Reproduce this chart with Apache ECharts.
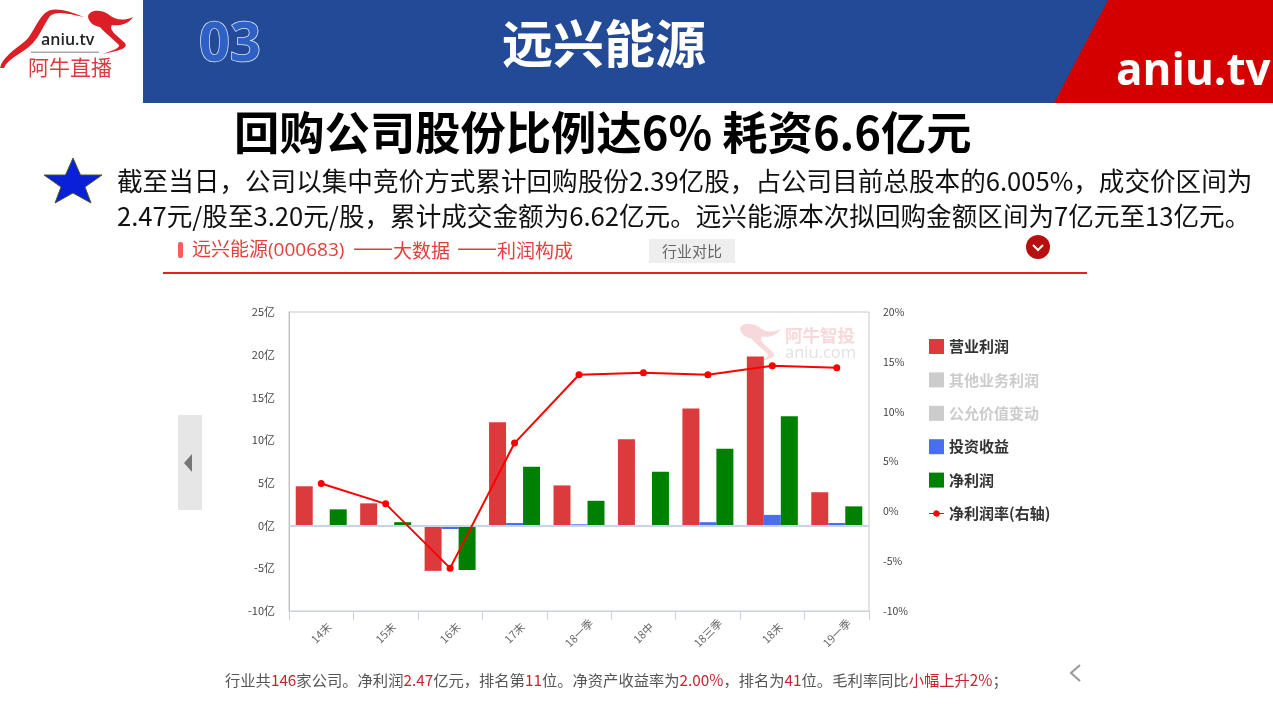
<!DOCTYPE html>
<html>
<head>
<meta charset="utf-8">
<title>远兴能源</title>
<script src="https://cdn.jsdelivr.net/npm/echarts@6/dist/echarts.min.js"></script>
<style>
  html, body { margin: 0; padding: 0; background: #fff; }
  #chart { width: 1273px; height: 705px; }
</style>
</head>
<body>
<div id="chart"></div>
<script>
// 数据
const categories = ['14末', '15末', '16末', '17末', '18一季', '18中', '18三季', '18末', '19一季']
const operatingProfit = [4.6, 2.6, -5.3, 12.1, 4.7, 10.1, 13.7, 19.8, 3.9]
const otherProfit = []
const fairValueChange = []
const investIncome = [0.02, -0.1, -0.4, 0.3, 0.15, 0.05, 0.4, 1.25, 0.3]
const netProfit = [1.9, 0.4, -5.2, 6.9, 2.9, 6.3, 9.0, 12.8, 2.25]
const netMargin = [2.8, 0.75, -5.7, 6.85, 13.7, 13.9, 13.7, 14.6, 14.4]
const legendNames = ['营业利润', '其他业务利润', '公允价值变动', '投资收益', '净利润', '净利润率(右轴)']

const FONT = '"Noto Sans CJK SC", "Noto Sans", sans-serif'
const myChart = echarts.init(document.getElementById('chart'))

// 袋鼠 logo 形状
const roBody = 'M0,68 C2,58 14,50 24,42 C32,36 36,22 44,14 C52,6 66,10 84,17 C70,14 56,10 50,16 C44,24 40,36 32,44 C22,54 8,58 4,68 Z '
const roHead = 'M88,16 C90,10 100,9 108,14 C114,19 122,22 133,17 C128,25 118,26 112,25 C108,30 118,36 125,43 C128,48 122,50 103,54 C114,50 120,48 119,45 C112,38 104,32 100,27 C94,26 88,22 88,16 Z'
echarts.graphic.registerShape('kangaroo', echarts.graphic.extendPath(roBody + roHead, {}))
echarts.graphic.registerShape('kangarooHead', echarts.graphic.extendPath(roHead, {}))

const txt = (x, y, text, size, fill, extra) => ({
  type: 'text', x, y, silent: true,
  style: Object.assign({ text, fill, font: size + 'px ' + FONT, textVerticalAlign: 'middle' }, extra || {}),
})
const boldTxt = (x, y, text, size, fill, extra) => ({
  type: 'text', x, y, silent: true,
  style: Object.assign({ text, fill, font: 'bold ' + size + 'px ' + FONT, textVerticalAlign: 'middle' }, extra || {}),
})

const decorations = [
  // 顶部
  { type: 'rect', shape: { x: 143, y: 0, width: 1130, height: 103 }, style: { fill: '#234a96' }, silent: true },
  { type: 'polygon', shape: { points: [[1108, 0], [1273, 0], [1273, 103], [1054, 103]] }, style: { fill: '#d40000' }, silent: true },
  boldTxt(1116, 72, 'aniu.tv', 44, '#fff', { font: 'bold 44px "Open Sans", sans-serif' }),
  boldTxt(199, 46, '03', 54, '#2f60c6', { font: 'bold 54px "Open Sans", sans-serif', stroke: '#dfe8f8', lineWidth: 1.5 }),
  boldTxt(502, 44, '远兴能源', 51, '#fff'),
  // logo
  { type: 'kangaroo', x: 0, y: 0, silent: true, style: { fill: '#dc1f26' } },
  txt(41, 40, 'aniu.tv', 16, '#222', { font: '600 16px "Open Sans", sans-serif' }),
  { type: 'rect', shape: { x: 31, y: 51.5, width: 68, height: 1.5 }, style: { fill: '#aaa' }, silent: true },
  txt(28, 67, '阿牛直播', 21, '#dc3a40'),
  // 标题与正文
  boldTxt(234, 133, '回购公司股份比例达6% 耗资6.6亿元', 45.3, '#000'),
  { type: 'polygon', shape: { points: [[73, 158], [80.5, 175], [102, 175], [85, 187], [91, 203], [73, 193], [55, 203], [61, 187], [44, 175], [65.5, 175]] }, style: { fill: '#0a1fd8', stroke: '#4a5a20', lineWidth: 1 }, silent: true },
  txt(117, 181, '截至当日，公司以集中竞价方式累计回购股份2.39亿股，占公司目前总股本的6.005%，成交价区间为', 25.6, '#111'),
  txt(117, 216, '2.47元/股至3.20元/股，累计成交金额为6.62亿元。远兴能源本次拟回购金额区间为7亿元至13亿元。', 25.6, '#111'),
  // 页内标题栏
  { type: 'rect', shape: { x: 178, y: 242, width: 5, height: 16, r: 2 }, style: { fill: '#ff5a5a' }, silent: true },
  txt(192, 251, '远兴能源(000683)', 19, '#e2403c', { font: '19px "Open Sans", "Noto Sans CJK SC", sans-serif' }),
  txt(353, 247, '——', 24, '#e2403c'),
  txt(393, 251, '大数据', 19, '#e2403c'),
  txt(457, 247, '——', 24, '#e2403c'),
  txt(497, 251, '利润构成', 19, '#e2403c'),
  { type: 'rect', shape: { x: 649, y: 239, width: 86, height: 24 }, style: { fill: '#eeeeee' }, silent: true },
  txt(662, 251, '行业对比', 15, '#666'),
  { type: 'circle', shape: { cx: 1038, cy: 247, r: 12 }, style: { fill: '#b50f0f' }, silent: true },
  { type: 'polyline', shape: { points: [[1033, 245], [1038, 250], [1043, 245]] }, style: { stroke: '#fff', lineWidth: 2, fill: null }, silent: true },
  { type: 'rect', shape: { x: 163, y: 272, width: 924, height: 2 }, style: { fill: '#e02424' }, silent: true },
  // 翻页
  { type: 'rect', shape: { x: 178, y: 415, width: 24, height: 95 }, style: { fill: '#e6e6e6' }, silent: true },
  { type: 'polygon', shape: { points: [[192, 454], [192, 472], [184, 463]] }, style: { fill: '#777' }, silent: true },
  { type: 'polyline', shape: { points: [[1080, 665], [1071, 673], [1080, 681]] }, style: { stroke: '#999', lineWidth: 2, fill: null }, silent: true },
  // 水印
  { type: 'kangarooHead', x: 661, y: 314, scaleX: 0.9, scaleY: 0.9, silent: true, style: { fill: '#f8d9d9' } },
  boldTxt(785, 335, '阿牛智投', 17.5, '#f8d9d9'),
  txt(785, 353, 'aniu.com', 16.5, '#e2e2e2', { font: '16.5px "Open Sans", sans-serif' }),
  // 底部说明
  {
    type: 'text', x: 225, y: 680, silent: true,
    style: {
      text: '{n|行业共}{r|146}{n|家公司。净利润}{r|2.47}{n|亿元，排名第}{r|11}{n|位。净资产收益率为}{r|2.00%}{n|，排名为}{r|41}{n|位。毛利率同比}{r|小幅上升2%}{n|；}',
      textVerticalAlign: 'middle',
      rich: {
        n: { fill: '#555', font: '15.3px ' + FONT },
        r: { fill: '#c8232c', font: '15.3px ' + FONT },
      },
    },
  },
]

const barSeries = (name, data, color) => ({
  name, type: 'bar', data, barWidth: 17, barGap: 0,
  itemStyle: { color },
})

const lineIcon = 'path://M0,3H4.1A3.5,3.5 0 0 1 10.9,3H15V4H10.9A3.5,3.5 0 0 1 4.1,4H0Z'

const option = {
  animation: false,
  textStyle: { fontFamily: FONT },
  grid: { left: 289, right: 404, top: 312, bottom: 94, show: true, borderColor: '#c8c8c8', borderWidth: 1 },
  legend: {
    orient: 'vertical', left: 924, top: 334,
    itemWidth: 15, itemHeight: 15, itemGap: 18.4,
    data: legendNames.map((name, i) => ({ name, icon: i === 5 ? lineIcon : 'rect' })),
    selected: { '其他业务利润': false, '公允价值变动': false },
    inactiveColor: '#cccccc',
    textStyle: { fontSize: 15, fontWeight: 'bold', color: '#333', fontFamily: FONT },
  },
  xAxis: {
    type: 'category',
    data: categories,
    axisLine: { onZero: false, lineStyle: { color: '#c8d4e6', width: 1 } },
    axisTick: { show: true, length: 9, lineStyle: { color: '#c8d4e6' } },
    axisLabel: { rotate: 45, align: 'center', verticalAlign: 'middle', margin: 22, fontSize: 11, color: '#666', interval: 0 },
  },
  yAxis: [
    {
      type: 'value', min: -10, max: 25, interval: 5,
      axisLine: { show: true, lineStyle: { color: '#c0c0c0' } },
      axisTick: { show: false },
      splitLine: { show: false },
      axisLabel: { formatter: '{value}亿', fontSize: 11, color: '#444', margin: 14 },
    },
    {
      type: 'value', min: -10, max: 20, interval: 5, position: 'right',
      axisLine: { show: false },
      axisTick: { show: false },
      splitLine: { show: false },
      axisLabel: { formatter: '{value}%', fontSize: 10.5, color: '#444', margin: 14 },
    },
  ],
  series: [
    Object.assign(barSeries(legendNames[0], operatingProfit, '#dc3b3e'), {
      markLine: {
        silent: true, symbol: 'none', label: { show: false },
        lineStyle: { color: '#c6d4e8', width: 2, type: 'solid' },
        data: [{ yAxis: 0 }],
      },
    }),
    barSeries(legendNames[1], otherProfit, '#999999'),
    barSeries(legendNames[2], fairValueChange, '#bbbbbb'),
    barSeries(legendNames[3], investIncome, '#4a6fec'),
    barSeries(legendNames[4], netProfit, '#008000'),
    {
      name: legendNames[5],
      type: 'line',
      yAxisIndex: 1,
      data: netMargin,
      symbol: 'circle',
      symbolSize: 7,
      z: 5,
      lineStyle: { color: '#ff0000', width: 2 },
      itemStyle: { color: '#ff0000' },
    },
  ],
  graphic: { elements: decorations },
}
myChart.setOption(option)
</script>
</body>
</html>
